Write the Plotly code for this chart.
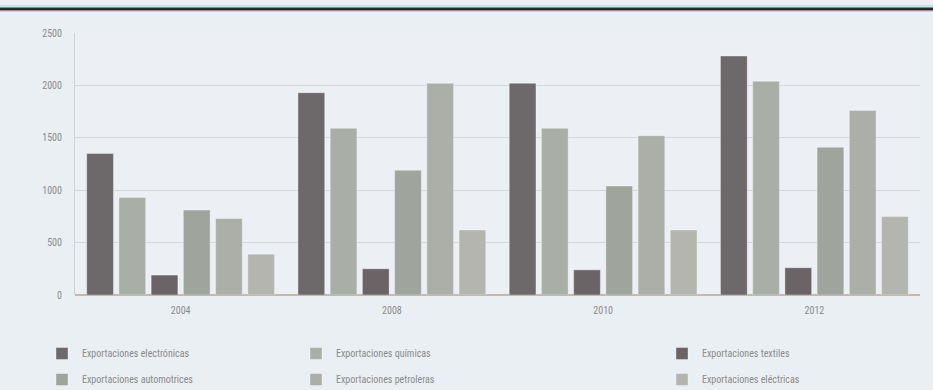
import plotly.graph_objects as go

years = ["2004", "2008", "2010", "2012"]
series_names = [
    "Exportaciones electrónicas",
    "Exportaciones químicas",
    "Exportaciones textiles",
    "Exportaciones automotrices",
    "Exportaciones petroleras",
    "Exportaciones eléctricas",
]
electronicas = [1350, 1930, 2020, 2280]
quimicas = [930, 1590, 1590, 2040]
textiles = [190, 250, 240, 260]
automotrices = [810, 1190, 1040, 1410]
petroleras = [730, 2020, 1520, 1760]
electricas = [390, 620, 620, 750]
y_ticks = [0, 500, 1000, 1500, 2000, 2500]

values = [electronicas, quimicas, textiles, automotrices, petroleras, electricas]
colors = ["#6d6869", "#a9aea6", "#6b6466", "#9fa49c", "#abafa7", "#b3b5ae"]
legends = ["legend", "legend2", "legend3", "legend", "legend2", "legend3"]

W, H = 933, 390
L, R, T, B = 75, 13, 33, 95

fig = go.Figure()
for i, (name, vals, col, lg) in enumerate(zip(series_names, values, colors, legends)):
    fig.add_trace(go.Bar(
        x=years, y=vals, name=name, legend=lg, legendgroup=f"g{i}",
        marker=dict(color=col, line=dict(color="rgba(255,255,255,0.35)", width=1)),
    ))

font = dict(family="Liberation Sans Narrow, Arial Narrow, Roboto Condensed, Liberation Sans", size=10, color="#8a8a8a")
pw = W - L - R
ph = H - T - B
def px(x):
    return (x - L) / pw
def py(y):
    return (H - B - y) / ph

legend_common = dict(orientation="v", font=dict(family=font["family"], size=10, color="#8a8a8a"),
                     bgcolor="rgba(0,0,0,0)", itemwidth=30, tracegroupgap=7,
                     yanchor="top", y=py(339), xanchor="left", traceorder="grouped")

fig.update_layout(
    width=W, height=H,
    margin=dict(l=L, r=R, t=T, b=B, autoexpand=False),
    paper_bgcolor="#eaeff3",
    plot_bgcolor="#ecf0f4",
    font=font,
    barmode="group",
    bargap=0.085,
    bargroupgap=0.17,
    showlegend=True,
    legend=dict(legend_common, x=px(42)),
    legend2=dict(legend_common, x=px(296)),
    legend3=dict(legend_common, x=px(662)),
    xaxis=dict(showgrid=False, showline=False, ticks="", tickfont=font, ticklabelstandoff=8),
    yaxis=dict(range=[0, 2500], tickvals=y_ticks, showgrid=True, gridcolor="#d5d8da",
               gridwidth=1, showline=True, linecolor="#d0d3d5", zeroline=True,
               zerolinecolor="#c9b7a8", ticks="", tickfont=font, ticklabelstandoff=10),
)

# decorative rule at top
x0, x1 = px(0), px(W)
fig.add_shape(type="line", xref="paper", yref="paper", x0=x0, x1=x1, y0=py(6), y1=py(6),
              line=dict(color="#9fd8e0", width=1))
fig.add_shape(type="line", xref="paper", yref="paper", x0=x0, x1=x1, y0=py(9), y1=py(9),
              line=dict(color="#2c2a30", width=3))
fig.add_shape(type="line", xref="paper", yref="paper", x0=x0, x1=x1, y0=py(11.5), y1=py(11.5),
              line=dict(color="#e8d9a0", width=1))

fig.write_html("out.html")
